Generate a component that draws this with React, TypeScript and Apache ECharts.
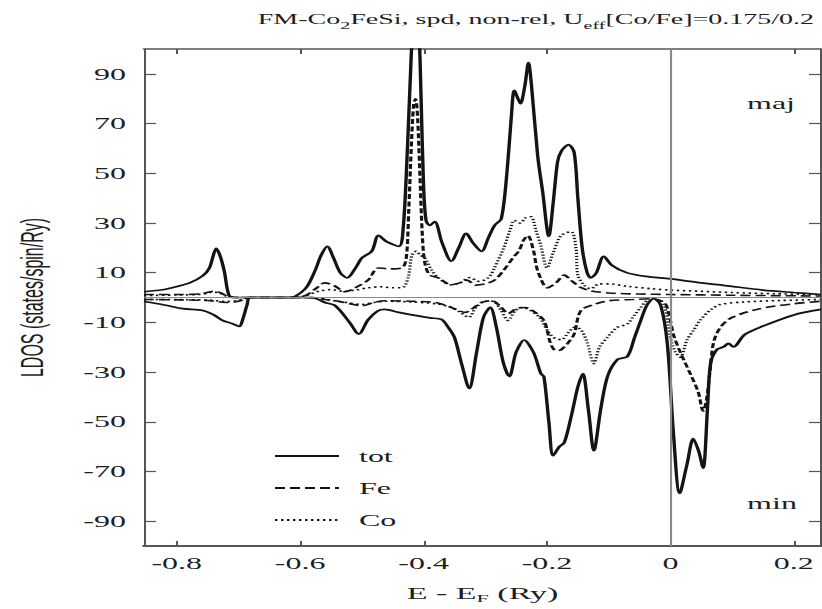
import React, { useEffect, useRef } from 'react';
import * as echarts from 'echarts';

// ---- data (energies in Ry, LDOS in states/spin/Ry) ----
const totMajE = [-0.853, -0.82, -0.811, -0.779, -0.758, -0.747, -0.74, -0.736, -0.73, -0.723, -0.715, -0.705, -0.62, -0.608, -0.59, -0.576, -0.566, -0.556, -0.546, -0.535, -0.524, -0.51, -0.5, -0.484, -0.473, -0.46, -0.44, -0.433, -0.427, -0.422, -0.417, -0.412, -0.408, -0.404, -0.4, -0.396, -0.39, -0.382, -0.37, -0.355, -0.343, -0.331, -0.32, -0.306, -0.295, -0.285, -0.274, -0.265, -0.258, -0.253, -0.247, -0.243, -0.236, -0.23, -0.225, -0.215, -0.207, -0.197, -0.19, -0.183, -0.177, -0.165, -0.156, -0.15, -0.143, -0.135, -0.129, -0.12, -0.108, -0.095, -0.07, -0.04, 0, 0.05, 0.092, 0.15, 0.2, 0.244];
const totMajV = [2.3, 3.2, 3.7, 5.9, 8.7, 11.9, 17.5, 19.8, 17, 10.7, 0.7, 0, 0, 0.5, 4, 10.7, 17, 20.6, 16, 10, 7.9, 12, 15.9, 18.6, 25, 22.5, 20.6, 28, 55, 85, 112, 120, 112, 80, 45, 31, 29, 30.5, 22, 14.6, 20, 25.8, 22, 18.6, 24, 29, 31.7, 50, 72, 83.4, 80, 78, 85, 94.5, 85, 56.8, 42.5, 24.6, 38, 54.4, 58.8, 61.5, 58.4, 40, 20, 10, 7.9, 10, 16.6, 13, 9.9, 8.5, 7.5, 5.9, 4.7, 3, 2, 1.2];

const feMajE = [-0.853, -0.8, -0.76, -0.74, -0.73, -0.715, -0.7, -0.61, -0.59, -0.575, -0.56, -0.545, -0.527, -0.51, -0.49, -0.473, -0.455, -0.435, -0.428, -0.424, -0.42, -0.416, -0.413, -0.41, -0.406, -0.402, -0.398, -0.39, -0.376, -0.355, -0.34, -0.33, -0.315, -0.3, -0.285, -0.27, -0.255, -0.245, -0.238, -0.231, -0.222, -0.215, -0.199, -0.185, -0.172, -0.16, -0.145, -0.129, -0.1, -0.05, 0, 0.1, 0.244];
const feMajV = [1.2, 1.2, 1.5, 2.5, 2, 0.3, 0, 0, 1, 3.5, 5.9, 4.8, 2.3, 4, 7, 11.9, 11.5, 11.9, 16, 35, 60, 78, 80, 74, 50, 25, 14, 9, 7.9, 5.1, 6, 7, 5, 5.5, 7, 11, 16, 19, 23, 25, 19, 10.7, 3.9, 6, 9, 6.7, 4, 2.7, 1.8, 1.4, 1.2, 0.9, 0.6];

const coMajE = [-0.853, -0.8, -0.76, -0.74, -0.73, -0.715, -0.7, -0.61, -0.59, -0.57, -0.55, -0.53, -0.51, -0.49, -0.47, -0.45, -0.435, -0.425, -0.419, -0.412, -0.405, -0.398, -0.387, -0.376, -0.355, -0.34, -0.325, -0.31, -0.295, -0.285, -0.27, -0.26, -0.253, -0.243, -0.235, -0.226, -0.218, -0.21, -0.2, -0.19, -0.177, -0.161, -0.153, -0.15, -0.14, -0.129, -0.115, -0.1, -0.07, -0.03, 0, 0.05, 0.1, 0.17, 0.244];
const coMajV = [0.8, 1, 1.3, 2.2, 1.8, 0.2, 0, 0, 0.8, 2.5, 3.2, 2.5, 3, 3.9, 4.3, 3.9, 3.9, 8, 17, 18.6, 17, 15.9, 11, 7.9, 5.1, 6, 8, 6.5, 8, 12, 20, 27, 31, 30, 32, 32.5, 27, 21, 11.9, 18, 25, 26.5, 20, 9, 5, 3.5, 5.5, 5.5, 4.5, 3.5, 3, 2.5, 2, 1.5, 1.2];

const totMinE = [-0.853, -0.82, -0.79, -0.758, -0.74, -0.726, -0.71, -0.699, -0.692, -0.686, -0.68, -0.6, -0.576, -0.56, -0.543, -0.52, -0.505, -0.49, -0.475, -0.463, -0.44, -0.414, -0.39, -0.371, -0.36, -0.35, -0.338, -0.326, -0.314, -0.303, -0.292, -0.282, -0.271, -0.261, -0.25, -0.237, -0.222, -0.21, -0.205, -0.197, -0.19, -0.18, -0.172, -0.16, -0.15, -0.142, -0.133, -0.124, -0.113, -0.102, -0.086, -0.07, -0.058, -0.048, -0.038, -0.027, -0.016, -0.005, 0.005, 0.015, 0.027, 0.037, 0.046, 0.053, 0.06, 0.065, 0.075, 0.086, 0.094, 0.102, 0.12, 0.145, 0.2, 0.244];
const totMinV = [-1.6, -3, -4.5, -5.2, -7, -9.2, -10.5, -11.6, -8, -3, 0, 0, -0.3, -2, -3.3, -10, -14.7, -9, -5.5, -4.8, -6, -7.2, -8.2, -8.8, -12, -16, -27, -36.6, -22, -8, -4, -12, -26, -31.8, -22, -17.1, -22, -30.6, -31.8, -50, -63.6, -60, -58.4, -47, -36, -30.6, -45, -61.6, -45, -31.8, -25, -23.8, -16, -9.2, -3, -0.4, -3, -18.6, -55, -78.8, -67, -56.8, -62, -68.7, -45, -26.6, -21, -19.9, -18.5, -19.9, -15, -12, -7, -4.8];

const feMinE = [-0.853, -0.75, -0.72, -0.7, -0.68, -0.58, -0.56, -0.543, -0.52, -0.5, -0.48, -0.463, -0.42, -0.382, -0.36, -0.344, -0.332, -0.318, -0.306, -0.29, -0.274, -0.263, -0.25, -0.235, -0.222, -0.205, -0.194, -0.185, -0.177, -0.165, -0.156, -0.145, -0.124, -0.1, -0.06, -0.03, -0.01, -0.003, 0.005, 0.016, 0.032, 0.045, 0.053, 0.058, 0.064, 0.07, 0.081, 0.1, 0.145, 0.2, 0.244];
const feMinV = [-0.8, -1.2, -2, -1.5, 0, 0, -0.8, -1.3, -2.5, -3.3, -2, -1.3, -1.5, -2, -3.5, -5.2, -6, -4, -2, -1.2, -4, -6.5, -4.5, -4, -5.5, -9.2, -18.6, -21.5, -21, -18, -14.7, -5.2, -2.8, -1.3, -0.8, -0.5, -2, -6, -15, -22, -30.6, -38, -45.7, -42, -30, -18, -12, -8, -4.5, -2.5, -1.5];

const coMinE = [-0.853, -0.75, -0.72, -0.7, -0.68, -0.58, -0.56, -0.54, -0.52, -0.5, -0.48, -0.463, -0.42, -0.38, -0.355, -0.34, -0.327, -0.315, -0.3, -0.288, -0.275, -0.263, -0.252, -0.242, -0.228, -0.212, -0.2, -0.19, -0.177, -0.165, -0.155, -0.145, -0.135, -0.124, -0.115, -0.102, -0.086, -0.07, -0.058, -0.048, -0.035, -0.02, -0.01, 0, 0.008, 0.016, 0.027, 0.038, 0.048, 0.065, 0.081, 0.12, 0.18, 0.244];
const coMinV = [-0.8, -1, -1.6, -1.2, 0, 0, -0.6, -1.5, -2.2, -2.8, -2, -1.5, -1.8, -2.5, -4, -6, -8, -4, -1.5, -1.5, -5, -9.2, -5.5, -4, -5, -8, -13, -16, -17, -14, -12, -13, -18, -26.6, -20, -16, -12, -10.7, -7, -4, -1, -1, -3, -16, -22, -24, -17, -13, -9.2, -5, -2.8, -1.8, -1.2, -0.8];

const xTicks = [-0.8, -0.6, -0.4, -0.2, 0, 0.2];
const yTicks = [-90, -70, -50, -30, -10, 10, 30, 50, 70, 90];
const legendNames = ['tot', 'Fe', 'Co'];

const pairs = (xs: number[], ys: number[]) => xs.map((x, i) => [x, ys[i]]);

const SERIF = 'Liberation Serif';
const SANS = 'Liberation Sans';
const INK = '#141414';
const FRAME = '#555';
const TXT = '#1e1e1e';

export default function App() {
  const ref = useRef<HTMLDivElement>(null);
  useEffect(() => {
    if (!ref.current) return;
    const chart = echarts.init(ref.current, undefined, { renderer: 'svg' });
    const base = { type: 'line', symbol: 'none', showSymbol: false, smooth: 0.3, clip: true, silent: true, itemStyle: { color: INK } };
    const styles: Record<string, any> = {
      tot: { color: INK, width: 1.7, type: 'solid' },
      Fe: { color: INK, width: 1.6, type: [5, 2.5] },
      Co: { color: INK, width: 1.6, type: [1.2, 1.8] },
    };
    const xMin = -0.853, xMax = 0.244;
    const option: any = {
      animation: false,
      title: {
        text: 'FM-Co{sub|2}FeSi, spd, non-rel, U{sub|eff}[Co/Fe]=0.175/0.2',
        left: 402, top: 2, textAlign: 'right',
        textStyle: {
          fontFamily: SERIF, fontSize: 14, fontWeight: 'normal', color: TXT, lineHeight: 24,
          rich: { sub: { fontFamily: SERIF, fontSize: 10, color: TXT, lineHeight: 12, verticalAlign: 'bottom' } },
        },
      },
      legend: {
        data: legendNames, orient: 'vertical', left: 131.5, top: 443,
        itemWidth: 32, itemHeight: 14, itemGap: 16, selectedMode: false,
        itemStyle: { opacity: 0 },
        textStyle: { fontFamily: SERIF, fontSize: 16, color: TXT, padding: [0, 0, 0, 5] },
      },
      grid: { left: 70.5, right: 0.5, top: 49, bottom: 58.3, containLabel: false },
      xAxis: [
        {
          type: 'value', min: xMin, max: xMax, position: 'bottom',
          axisLine: { show: true, onZero: false, lineStyle: { color: FRAME, width: 2 } },
          axisTick: { show: true, inside: true, length: 5, customValues: xTicks, lineStyle: { color: FRAME, width: 1 } },
          axisLabel: { customValues: xTicks, margin: 9, fontFamily: SERIF, fontSize: 16, color: TXT },
          splitLine: { show: false },
          name: 'E - E{sub|F} (Ry)', nameLocation: 'middle', nameGap: 36,
          nameTextStyle: {
            fontFamily: SERIF, fontSize: 17, color: TXT, lineHeight: 22,
            rich: { sub: { fontFamily: SERIF, fontSize: 11, color: TXT, lineHeight: 12, verticalAlign: 'bottom' } },
          },
        },
        {
          type: 'value', min: xMin, max: xMax, position: 'top',
          axisLine: { show: true, onZero: false, lineStyle: { color: FRAME, width: 1.5 } },
          axisTick: { show: true, inside: true, length: 5, customValues: xTicks, lineStyle: { color: FRAME, width: 1 } },
          axisLabel: { show: false },
          splitLine: { show: false },
        },
      ],
      yAxis: [
        {
          type: 'value', min: -100, max: 100, position: 'left',
          axisLine: { show: true, onZero: false, lineStyle: { color: FRAME, width: 1 } },
          axisTick: { show: true, inside: true, length: 6, customValues: yTicks, lineStyle: { color: FRAME, width: 1.2 } },
          axisLabel: { customValues: yTicks, margin: 9, fontFamily: SERIF, fontSize: 16, color: TXT },
          splitLine: { show: false },
          name: 'LDOS (states/spin/Ry)', nameLocation: 'middle', nameGap: 48,
          nameTextStyle: { fontFamily: SANS, fontSize: 16, color: TXT },
        },
        {
          type: 'value', min: -100, max: 100, position: 'right',
          axisLine: { show: true, onZero: false, lineStyle: { color: FRAME, width: 1 } },
          axisTick: { show: true, inside: true, length: 6, customValues: yTicks, lineStyle: { color: FRAME, width: 1.2 } },
          axisLabel: { show: false },
          splitLine: { show: false },
        },
      ],
      graphic: [
        { type: 'text', x: 385.5, y: 103, style: { text: 'maj', fontFamily: SERIF, fontSize: 16, fill: TXT, align: 'center', verticalAlign: 'middle' } },
        { type: 'text', x: 386, y: 503, style: { text: 'min', fontFamily: SERIF, fontSize: 16, fill: TXT, align: 'center', verticalAlign: 'middle' } },
      ],
      series: [
        {
          ...base, name: 'tot', data: pairs(totMajE, totMajV), lineStyle: styles.tot, z: 4,
          markLine: {
            silent: true, symbol: 'none', label: { show: false },
            lineStyle: { color: '#8a8a8a', width: 1.1, type: 'solid' },
            data: [{ xAxis: 0 }, { yAxis: 0 }],
          },
        },
        { ...base, name: 'Fe', data: pairs(feMajE, feMajV), lineStyle: styles.Fe, z: 3 },
        { ...base, name: 'Co', data: pairs(coMajE, coMajV), lineStyle: styles.Co, z: 3 },
        { ...base, name: 'tot', data: pairs(totMinE, totMinV), lineStyle: styles.tot, z: 4 },
        { ...base, name: 'Fe', data: pairs(feMinE, feMinV), lineStyle: styles.Fe, z: 3 },
        { ...base, name: 'Co', data: pairs(coMinE, coMinV), lineStyle: styles.Co, z: 3 },
      ],
    };
    chart.setOption(option);
    return () => chart.dispose();
  }, []);
  return (
    <div style={{ position: 'fixed', left: 0, top: 0, width: 822, height: 609, overflow: 'hidden', background: '#fff' }}>
      <div ref={ref} style={{ width: 411, height: 609, transform: 'scaleX(2)', transformOrigin: '0 0' }} />
    </div>
  );
}
